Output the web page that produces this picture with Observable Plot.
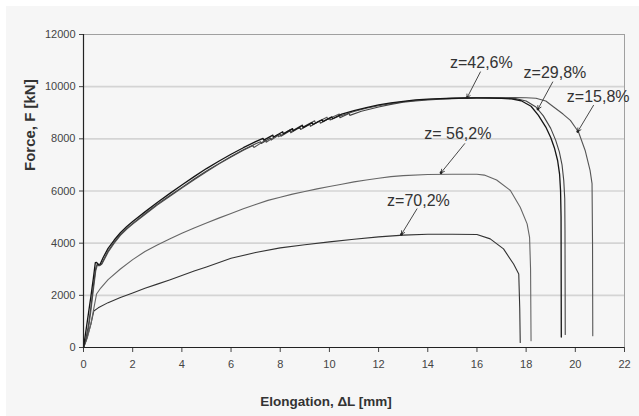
<!DOCTYPE html>
<html><head><meta charset="utf-8">
<script src="https://cdn.jsdelivr.net/npm/d3@7"></script>
<script src="https://cdn.jsdelivr.net/npm/@observablehq/plot@0.6"></script>
<style>
html,body{margin:0;padding:0;background:#fff;}
#chart{position:absolute;left:6px;top:6px;width:633px;height:410px;background:#f6f6f6;}
#chart svg{display:block;}
</style></head><body><div id="chart"></div>
<script>
// Tick values
const xTicks = [0,2,4,6,8,10,12,14,16,18,20,22];
const yTicks = [0,2000,4000,6000,8000,10000,12000];
const gridF = [2000,4000,6000,8000,10000];

// z = 42,6 %
const e426 = [0,0.1,0.2,0.3,0.4,0.48,0.53,0.6,0.68,0.8,1.0,1.25,1.5,1.75,2.0,2.5,3.0,3.5,4.0,4.5,5.0,5.5,6.0,6.5,7.0,7.3,7.33,7.7,7.73,8.1,8.13,8.5,8.53,8.9,8.93,9.3,9.33,9.7,9.73,10.1,10.13,10.5,11.0,11.5,12.0,12.5,13.0,13.5,14.0,14.5,15.0,15.5,16.0,16.5,17.0,17.4,17.8,18.2,18.5,18.8,19.0,19.15,19.28,19.36,19.40,19.42,19.43];
const f426 = [0,650,1300,1950,2650,3250,3260,3190,3200,3450,3800,4120,4400,4630,4830,5200,5560,5900,6230,6550,6860,7140,7410,7660,7890,8020,7950,8140,8070,8270,8190,8390,8310,8510,8430,8620,8550,8730,8660,8840,8770,8950,9080,9200,9300,9380,9440,9490,9520,9540,9555,9565,9570,9565,9550,9530,9460,9250,8900,8450,8050,7650,7170,6650,6000,5000,400];

// z = 29,8 %
const e298 = [0,0.1,0.2,0.3,0.4,0.5,0.56,0.63,0.72,0.85,1.0,1.25,1.5,1.75,2.0,2.5,3.0,3.5,4.0,4.5,5.0,5.5,6.0,6.5,7.0,7.2,7.23,7.6,7.63,8.0,8.03,8.4,8.43,8.8,8.83,9.2,9.23,9.6,9.63,10.0,10.03,10.4,10.43,10.8,10.83,11.3,12.0,12.5,13.0,13.5,14.0,14.5,15.0,15.5,16.0,16.5,17.0,17.6,18.0,18.4,18.7,19.0,19.2,19.35,19.46,19.53,19.57,19.58,19.59];
const f298 = [0,350,850,1550,2350,3050,3200,3130,3180,3420,3700,4040,4330,4560,4760,5130,5490,5820,6140,6460,6770,7050,7320,7580,7810,7890,7820,8030,7950,8180,8100,8310,8230,8440,8360,8560,8480,8680,8600,8790,8720,8880,8810,8970,8900,9060,9220,9320,9400,9450,9490,9520,9540,9555,9565,9565,9560,9540,9450,9220,8880,8400,7950,7500,7000,6400,5700,4500,500];

// z = 15,8 %
const e158 = [0,0.1,0.2,0.3,0.4,0.5,0.57,0.65,0.75,0.9,1.0,1.25,1.5,1.75,2.0,2.5,3.0,3.5,4.0,4.5,5.0,5.5,6.0,6.5,6.9,6.93,7.4,7.43,7.9,7.93,8.4,8.43,8.9,8.93,9.4,9.43,9.9,9.93,10.4,10.43,11.0,11.5,12.0,12.5,13.0,13.5,14.0,14.5,15.0,15.5,16.0,16.5,17.0,17.5,18.0,18.4,18.8,19.12,19.5,19.8,20.13,20.4,20.6,20.68,20.7,20.71];
const f158 = [0,250,700,1400,2200,2950,3180,3140,3200,3470,3650,4000,4300,4530,4730,5100,5460,5790,6110,6430,6740,7030,7300,7560,7740,7670,7950,7870,8160,8080,8350,8270,8530,8450,8690,8610,8830,8750,8950,8870,9050,9170,9270,9350,9420,9470,9510,9535,9550,9560,9570,9575,9580,9580,9575,9555,9450,9220,8950,8710,8260,7555,6790,6280,4000,450];

// z = 56,2 %
const e562 = [0,0.15,0.3,0.42,0.53,0.7,1.0,1.5,2.0,2.5,3.0,3.5,4.0,4.5,5.0,5.5,6.0,6.5,7.0,7.5,8.0,8.5,9.0,9.5,10.0,10.5,11.0,11.5,12.0,12.5,13.0,14.0,15.0,16.0,16.3,16.8,17.36,17.76,18.04,18.14,18.18,18.2];
const f562 = [0,350,900,1500,2050,2280,2600,3010,3370,3680,3930,4160,4380,4580,4770,4960,5140,5320,5480,5640,5760,5880,5980,6080,6170,6260,6350,6420,6490,6550,6590,6630,6640,6640,6610,6420,6020,5380,4740,4225,3000,260];

// z = 70,2 %
const e702 = [0,0.15,0.3,0.42,0.6,1.0,1.5,2.0,2.5,3.0,3.5,4.0,4.5,5.0,6.0,7.0,8.0,9.0,10.0,11.0,12.0,13.0,14.0,15.0,16.0,16.54,17.08,17.49,17.7,17.74,17.76];
const f702 = [0,400,900,1400,1520,1720,1920,2090,2270,2430,2590,2760,2930,3090,3420,3640,3820,3940,4050,4150,4240,4310,4340,4340,4330,4165,3780,3200,2820,1500,190];

// Annotations
const labels = ["z=42,6%","z=29,8%","z=15,8%","z= 56,2%","z=70,2%"];
const labelX = [16.18,19.17,20.93,15.22,13.62];
const labelY = [10900,10530,9605,8200,5635];
const arrowFromX = [16.14,19.08,20.74,15.5,13.56];
const arrowFromY = [10565,10180,9285,7815,5315];
const arrowToX = [15.6,18.48,20.1,14.54,12.93];
const arrowToY = [9580,9140,8280,6700,4340];

const rows = (xs, ys) => xs.map((x, i) => ({x, y: ys[i]}));
const notes = labels.map((t, i) => ({t, tx: labelX[i], ty: labelY[i], x1: arrowFromX[i], y1: arrowFromY[i], x2: arrowToX[i], y2: arrowToY[i]}));

const font = "'Liberation Sans', Arial, sans-serif";
const chart = Plot.plot({
  width: 633, height: 410,
  marginLeft: 77, marginRight: 15, marginTop: 28, marginBottom: 69,
  style: {background: "#f6f6f6", color: "#444", fontFamily: font, fontSize: "11px"},
  x: {domain: [0, 22], ticks: xTicks, tickSize: 5, tickPadding: 8, tickFormat: d => String(d), label: null},
  y: {domain: [0, 12000], ticks: yTicks, tickSize: 4, tickPadding: 4, tickFormat: d => String(d), label: null},
  marks: [
    Plot.ruleY(gridF, {stroke: "#d4d4d4", strokeWidth: 1.6}),
    Plot.ruleY([12000], {stroke: "#a0a0a0", strokeWidth: 1}),
    Plot.ruleX([22], {stroke: "#a0a0a0", strokeWidth: 1}),
    Plot.line(rows(e702, f702), {x: "x", y: "y", stroke: "#333", strokeWidth: 1.1}),
    Plot.line(rows(e562, f562), {x: "x", y: "y", stroke: "#666", strokeWidth: 1.1}),
    Plot.line(rows(e158, f158), {x: "x", y: "y", stroke: "#555", strokeWidth: 1.1}),
    Plot.line(rows(e298, f298), {x: "x", y: "y", stroke: "#444", strokeWidth: 1.1}),
    Plot.line(rows(e426, f426), {x: "x", y: "y", stroke: "#151515", strokeWidth: 1.3}),
    Plot.ruleX([0], {stroke: "#222", strokeWidth: 1.2}),
    Plot.ruleY([0], {stroke: "#222", strokeWidth: 1.2}),
    Plot.arrow(notes, {x1: "x1", y1: "y1", x2: "x2", y2: "y2", stroke: "#333", strokeWidth: 0.9, headLength: 6}),
    Plot.dot(notes, {x: "x2", y: "y2", r: 1.4, fill: "#222", stroke: "none"}),
    Plot.text(notes, {x: "tx", y: "ty", text: "t", fontSize: 16, fill: "#333", fontFamily: font}),
    Plot.text(["Elongation, ΔL [mm]"], {frameAnchor: "bottom", dx: -28, dy: 58, text: d => d, fontSize: 13.5, fontWeight: "bold", fill: "#333", fontFamily: font}),
    Plot.text(["Force, F [kN]"], {frameAnchor: "left", dx: -53, dy: -20, rotate: -90, text: d => d, fontSize: 15, fontWeight: "bold", fill: "#333", fontFamily: font})
  ]
});
document.getElementById("chart").appendChild(chart);
</script></body></html>
